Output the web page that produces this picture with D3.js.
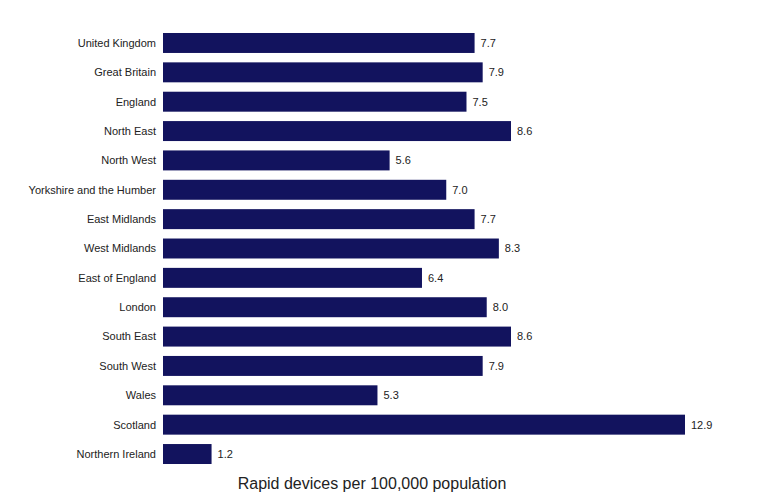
<!DOCTYPE html>
<head>
<meta charset="utf-8">
<script src="https://d3js.org/d3.v7.min.js"></script>
<style>
  body { margin: 0; background: #fff; }
  text { font-family: "Liberation Sans", Arial, sans-serif; }
</style>
</head>
<body>
<div id="container"></div>
<script>
// data
const regions = ["United Kingdom", "Great Britain", "England", "North East", "North West",
  "Yorkshire and the Humber", "East Midlands", "West Midlands", "East of England", "London",
  "South East", "South West", "Wales", "Scotland", "Northern Ireland"];
const devices = [7.7, 7.9, 7.5, 8.6, 5.6, 7.0, 7.7, 8.3, 6.4, 8.0, 8.6, 7.9, 5.3, 12.9, 1.2];
const xTitle = "Rapid devices per 100,000 population";

const width = 781, height = 504;
const svg = d3.select("#container").append("svg")
  .attr("width", width).attr("height", height);

const x = d3.scaleLinear().domain([0, 12.9]).range([163, 685]);
const y = d3.scaleBand().domain(regions).range([28.3, 468.7]).paddingInner(0.32).paddingOuter(0.16);

const rows = svg.selectAll("g.row").data(regions).enter().append("g").attr("class", "row");

rows.append("rect")
  .attr("x", x(0))
  .attr("y", d => y(d))
  .attr("width", (d, i) => x(devices[i]) - x(0))
  .attr("height", y.bandwidth())
  .attr("fill", "#12135e");

rows.append("text")
  .attr("x", 156)
  .attr("y", d => y(d) + y.bandwidth() / 2)
  .attr("dy", "0.35em")
  .attr("text-anchor", "end")
  .style("font-size", "11px")
  .attr("fill", "#222")
  .text(d => d);

rows.append("text")
  .attr("x", (d, i) => x(devices[i]) + 6)
  .attr("y", d => y(d) + y.bandwidth() / 2)
  .attr("dy", "0.35em")
  .style("font-size", "11px")
  .attr("fill", "#222")
  .text((d, i) => devices[i].toFixed(1));

svg.append("text")
  .attr("x", 372).attr("y", 489)
  .attr("text-anchor", "middle")
  .style("font-size", "16px")
  .attr("fill", "#222")
  .text(xTitle);
</script>
</body>
